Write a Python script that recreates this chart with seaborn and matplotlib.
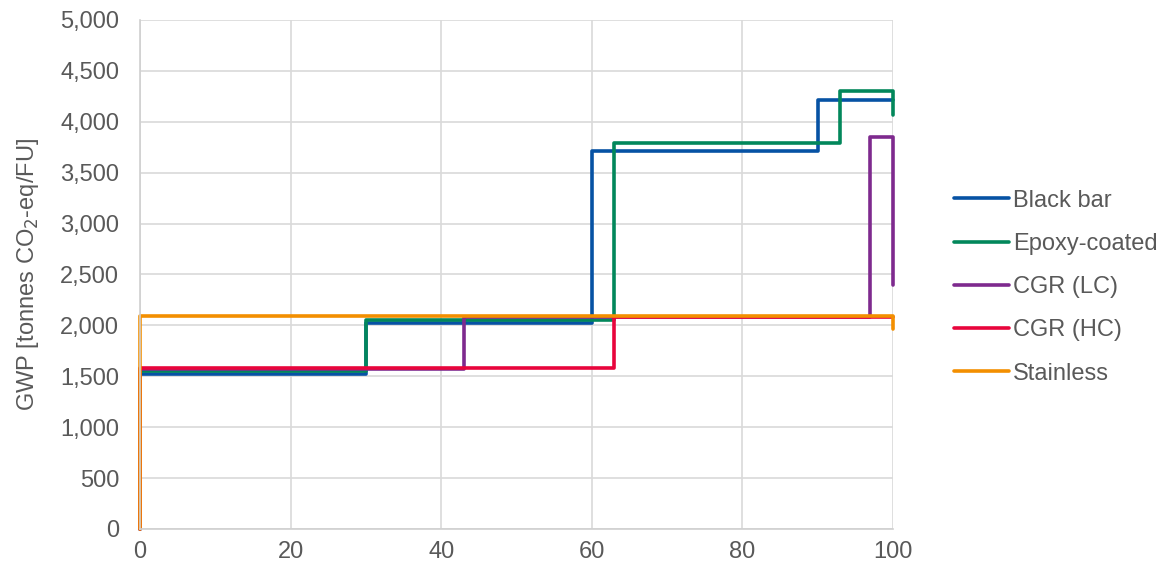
import matplotlib
matplotlib.use("Agg")
import matplotlib.pyplot as plt
import seaborn as sns
import pandas as pd

# step data (years vs cumulative GWP)
series_names = ["Black bar", "Epoxy-coated", "CGR (LC)", "CGR (HC)", "Stainless"]

black_x = [0, 0, 30, 30, 60, 60, 90, 90, 100]
black_y = [0, 1520, 1520, 2020, 2020, 3710, 3710, 4210, 4210]

epoxy_x = [0, 0, 30, 30, 63, 63, 93, 93, 100, 100]
epoxy_y = [0, 1550, 1550, 2050, 2050, 3790, 3790, 4300, 4300, 4065]

lc_x = [0, 0, 43, 43, 97, 97, 100, 100]
lc_y = [0, 1570, 1570, 2080, 2080, 3850, 3850, 2400]

hc_x = [0, 0, 63, 63, 100]
hc_y = [0, 1580, 1580, 2085, 2085]

stainless_x = [0, 0, 100, 100]
stainless_y = [0, 2090, 2090, 1960]

colors = ["#0652A4", "#02875B", "#7E2A8E", "#E8053C", "#F38F00"]

rows = []
for name, xs, ys in zip(series_names,
                        [black_x, epoxy_x, lc_x, hc_x, stainless_x],
                        [black_y, epoxy_y, lc_y, hc_y, stainless_y]):
    for i, (x, y) in enumerate(zip(xs, ys)):
        rows.append({"series": name, "order": i, "year": x, "gwp": y})
df = pd.DataFrame(rows)

sns.set_style("white")
plt.rcParams["font.family"] = ["Liberation Sans", "DejaVu Sans"]
grey = "#595959"

fig = plt.figure(figsize=(11.64, 5.71), dpi=100)
ax = fig.add_axes([0.1203, 0.0736, 0.6467, 0.8914])

sns.lineplot(data=df, x="year", y="gwp", hue="series", hue_order=series_names,
             palette=colors, estimator=None, sort=False, linewidth=2.6,
             clip_on=False, ax=ax)

ax.set_xlim(0, 100)
ax.set_ylim(0, 5000)
ax.set_xticks(range(0, 101, 20))
ax.set_yticks(range(0, 5001, 500))
ax.set_yticklabels([f"{v:,}" for v in range(0, 5001, 500)])
ax.grid(True, color="#D9D9D9", linewidth=1.2)
ax.set_axisbelow(True)
for s in ["top", "right"]:
    ax.spines[s].set_visible(False)
for s in ["left", "bottom"]:
    ax.spines[s].set_color("#D0D0D0")
    ax.spines[s].set_linewidth(1.2)
ax.tick_params(axis="both", length=0, labelsize=17, labelcolor=grey)
ax.tick_params(axis="y", pad=15)
ax.tick_params(axis="x", pad=9)
ax.set_xlabel("")
ax.set_ylabel("GWP [tonnes CO$_2$-eq/FU]", fontsize=17, color=grey, labelpad=14)

handles, labels = ax.get_legend_handles_labels()
ax.get_legend().remove()
fig.legend(handles, labels, loc="center left", bbox_to_anchor=(0.8015, 0.497),
           frameon=False, fontsize=17, labelcolor=grey, handlelength=2.3,
           handletextpad=0.2, labelspacing=0.9)

fig.savefig("out.png", dpi=100)
